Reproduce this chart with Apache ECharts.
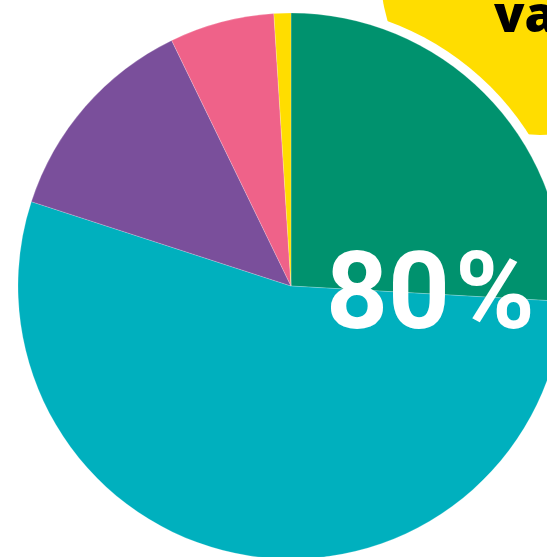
<!DOCTYPE html>
<html>
<head>
<meta charset="utf-8">
<script src="https://cdn.jsdelivr.net/npm/echarts@6/dist/echarts.min.js"></script>
<style>
  html, body { margin: 0; padding: 0; background: #fff; }
  #chart { width: 547px; height: 557px; }
</style>
</head>
<body>
<div id="chart"></div>
<script>
// slice shares, clockwise from 12 o'clock
const sliceNames = ['A', 'B', 'C', 'D', 'E']
const sliceValues = [25.9, 54.1, 12.8, 6.2, 1.0]
const sliceColors = ['#00926E', '#00B0BE', '#7A4F9B', '#EF6289', '#FFDD00']
const bigNumber = '80'
const bigUnit = '%'
const badgeText = 'va'

const chart = echarts.init(document.getElementById('chart'))

chart.setOption({
  animation: false,
  graphic: [
    {
      type: 'circle',
      z: -10,
      shape: { cx: 540, cy: -24, r: 159 },
      style: { fill: '#FFDD00' }
    },
    {
      type: 'circle',
      z: -5,
      shape: { cx: 291, cy: 286, r: 282 },
      style: { fill: '#fff' }
    },
    {
      type: 'text',
      z: 100,
      left: 494,
      top: -7,
      style: {
        text: badgeText,
        fill: '#000',
        font: '800 50px "Open Sans"'
      }
    },
    {
      type: 'text',
      z: 100,
      left: 326,
      top: 247,
      style: {
        text: bigNumber,
        fill: '#fff',
        font: 'bold 108px Roboto'
      }
    },
    {
      type: 'text',
      z: 100,
      left: 455,
      top: 247,
      style: {
        text: bigUnit,
        fill: '#fff',
        font: 'bold 108px Roboto'
      }
    }
  ],
  series: [{
    type: 'pie',
    center: [291, 286],
    radius: 273,
    startAngle: 90,
    clockwise: true,
    silent: true,
    label: { show: false },
    labelLine: { show: false },
    itemStyle: { borderColor: 'rgba(255,255,255,0.4)', borderWidth: 0.5 },
    data: sliceValues.map((v, i) => ({
      name: sliceNames[i],
      value: v,
      itemStyle: { color: sliceColors[i] }
    }))
  }]
})
</script>
</body>
</html>
